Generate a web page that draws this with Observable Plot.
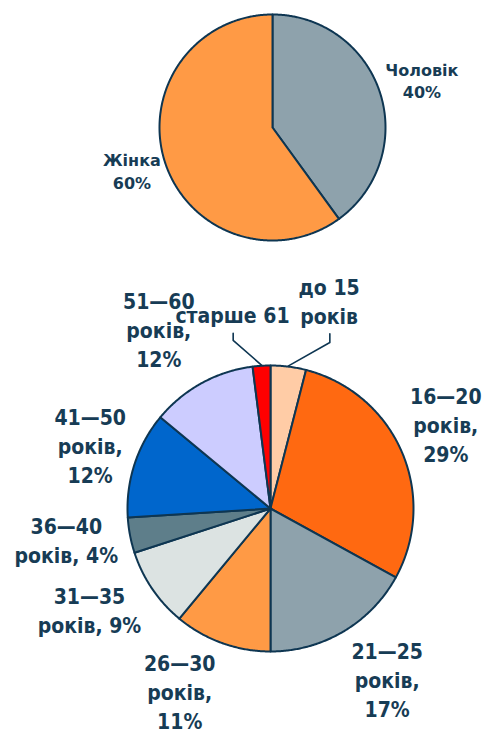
<!DOCTYPE html>
<html><head><meta charset="utf-8">
<script src="https://cdn.jsdelivr.net/npm/d3@7"></script>
<script src="https://cdn.jsdelivr.net/npm/@observablehq/plot@0.6"></script>
<style>
body{margin:0;background:#fff;width:484px;height:730px;overflow:hidden;}
svg{display:block;}
</style>
</head><body><div id="chart"></div>
<script>
// ---- data ----
const genderCategories = ["Чоловік", "Жінка"];
const genderValues = [40, 60];
const genderLabels = ["Чоловік\n40%", "Жінка\n60%"];
const genderColors = ["#8ea2ac", "#ff9a45"];

const ageCategories = ["до 15", "16—20", "21—25", "26—30", "31—35", "36—40", "41—50", "51—60", "старше 61"];
const ageValues = [4, 29, 17, 11, 9, 4, 12, 12, 2];
const ageLabels = ["до 15\nроків", "16—20\nроків,\n29%", "21—25\nроків,\n17%", "26—30\nроків,\n11%",
  "31—35\nроків, 9%", "36—40\nроків, 4%", "41—50\nроків,\n12%", "51—60\nроків,\n12%", "старше 61"];
const ageColors = ["#ffcca6", "#ff6911", "#8ea2ac", "#ff9a45", "#dce3e2", "#5e7e8a", "#0066cc", "#ccccff", "#ff0000"];

// ---- layout (in pie-radius units, relative to pie centre) ----
const genderLabelPos = [[1.322, 0.420], [-1.244, -0.379]];
const ageLabelPos = [[0.410, 1.459], [1.226, 0.591], [0.816, -1.193], [-0.635, -1.276], [-1.266, -0.707],
  [-1.428, -0.215], [-1.261, 0.449], [-0.781, 1.257], [-0.266, 1.364]];
const ageLeaderElbows = [[[0.415, 1.222], [0.415, 1.161]], null, null, null, null, null, null, null,
  [[-0.261, 1.226], [-0.261, 1.175]]];

const STROKE = "#0e3652";
const TEXT = "#173c55";
const FONT_TOP = "DejaVu Sans, Verdana, sans-serif";
const FONT_BOTTOM = "DejaVu Sans Condensed, Liberation Sans Narrow, DejaVu Sans, sans-serif";

function slices(cats, vals, colors) {
  const total = d3.sum(vals);
  let acc = 0;
  return cats.map((c, i) => {
    const a0 = acc / total * 2 * Math.PI; acc += vals[i];
    const a1 = acc / total * 2 * Math.PI;
    const n = Math.max(2, Math.ceil((a1 - a0) / (Math.PI / 360)));
    const pts = [{x: 0, y: 0}];
    for (let k = 0; k <= n; k++) {
      const a = a0 + (a1 - a0) * k / n;
      pts.push({x: Math.sin(a), y: Math.cos(a)});
    }
    pts.push({x: 0, y: 0});
    return {category: c, value: vals[i], color: colors[i], mid: (a0 + a1) / 2, points: pts};
  });
}

function pie({cats, vals, colors, labels, labelPos, elbows, width, height, margins, fontSize, lineHeight, font}) {
  const sl = slices(cats, vals, colors);
  const marks = sl.map(s => Plot.line(s.points, {
    x: "x", y: "y", fill: s.color, stroke: STROKE, strokeWidth: 2, strokeLinejoin: "round"
  }));
  if (elbows) {
    sl.forEach((s, i) => {
      if (!elbows[i]) return;
      const pts = elbows[i].map(([x, y]) => ({x, y}));
      pts.push({x: Math.sin(s.mid) * 1.005, y: Math.cos(s.mid) * 1.005});
      marks.push(Plot.line(pts, {x: "x", y: "y", stroke: STROKE, strokeWidth: 1.6}));
    });
  }
  const lab = sl.map((s, i) => ({text: labels[i], x: labelPos[i][0], y: labelPos[i][1]}));
  marks.push(Plot.text(lab, {
    x: "x", y: "y", text: "text", fontSize, fontWeight: "bold", fill: TEXT,
    lineHeight, fontFamily: font
  }));
  return Plot.plot({
    width, height, ...margins,
    x: {domain: [-1, 1], axis: null},
    y: {domain: [-1, 1], axis: null},
    style: {background: "#fff", overflow: "visible"},
    marks
  });
}

const chart = document.getElementById("chart");
chart.append(pie({
  cats: genderCategories, vals: genderValues, colors: genderColors, labels: genderLabels,
  labelPos: genderLabelPos, elbows: null, width: 484, height: 255,
  margins: {marginLeft: 159, marginRight: 99, marginTop: 14, marginBottom: 15},
  fontSize: 16, lineHeight: 1.4, font: FONT_TOP
}));
chart.append(pie({
  cats: ageCategories, vals: ageValues, colors: ageColors, labels: ageLabels,
  labelPos: ageLabelPos, elbows: ageLeaderElbows, width: 484, height: 475,
  margins: {marginLeft: 127, marginRight: 71, marginTop: 110, marginBottom: 79},
  fontSize: 21, lineHeight: 1.38, font: FONT_BOTTOM
}));
</script>
</body></html>
